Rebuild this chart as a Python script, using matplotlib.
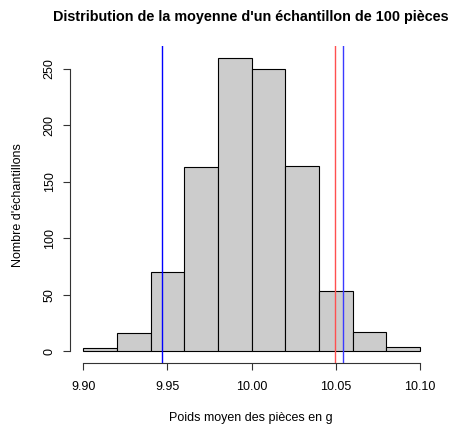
import matplotlib
matplotlib.use("Agg")
import matplotlib.pyplot as plt
import numpy as np

bin_edges = [9.90, 9.92, 9.94, 9.96, 9.98, 10.00, 10.02, 10.04, 10.06, 10.08, 10.10]
counts = [3, 16, 70, 163, 260, 250, 164, 53, 17, 4]
xticks = [9.90, 9.95, 10.00, 10.05, 10.10]
xtick_labels = ["9.90", "9.95", "10.00", "10.05", "10.10"]
yticks = [0, 50, 100, 150, 200, 250]
vlines = [(9.9465, "#0000FF"), (10.0498, "#FF5050"), (10.0540, "#3A3AFF")]

plt.rcParams['font.family'] = ['Liberation Sans', 'DejaVu Sans']

W, H = 455, 429
fig = plt.figure(figsize=(W / 100, H / 100), dpi=100)
ax = fig.add_axes([0.1534, 0.1538, 0.7993, 0.739])

lefts = bin_edges[:-1]
widths = np.diff(bin_edges)
ax.bar(lefts, counts, width=widths, align='edge', color='#CCCCCC',
       edgecolor='black', linewidth=0.8)

for x, c in vlines:
    ax.axvline(x, color=c, linewidth=1.0)

xr = bin_edges[-1] - bin_edges[0]
ax.set_xlim(bin_edges[0] - 0.04 * xr, bin_edges[-1] + 0.04 * xr)
ymax = max(counts)
ax.set_ylim(-0.04 * ymax, ymax * 1.04)

for s in ['top', 'right']:
    ax.spines[s].set_visible(False)
ax.spines['left'].set_bounds(0, 250)
ax.spines['bottom'].set_bounds(9.90, 10.10)
for s in ['left', 'bottom']:
    ax.spines[s].set_linewidth(0.8)
    ax.spines[s].set_color('#333333')

ax.set_xticks(xticks)
ax.set_xticklabels(xtick_labels)
ax.set_yticks(yticks)
ax.set_yticklabels([str(v) for v in yticks], rotation=90, va='center')
ax.tick_params(axis='both', labelsize=9, length=5.2, width=0.8, color='#333333')
ax.tick_params(axis='x', pad=7.5)
ax.tick_params(axis='y', pad=5)

fig.text(18 / W, 1 - 205 / H, "Nombre d'échantillons", rotation=90,
         ha='center', va='center', fontsize=9)
fig.text(251 / W, 1 - 418 / H, "Poids moyen des pièces en g",
         ha='center', va='center', fontsize=9)
fig.text(251 / W, 1 - 17 / H,
         "Distribution de la moyenne d'un échantillon de 100 pièces",
         ha='center', va='center', fontsize=10.4, fontweight='bold')

fig.savefig("out.png", dpi=100)
